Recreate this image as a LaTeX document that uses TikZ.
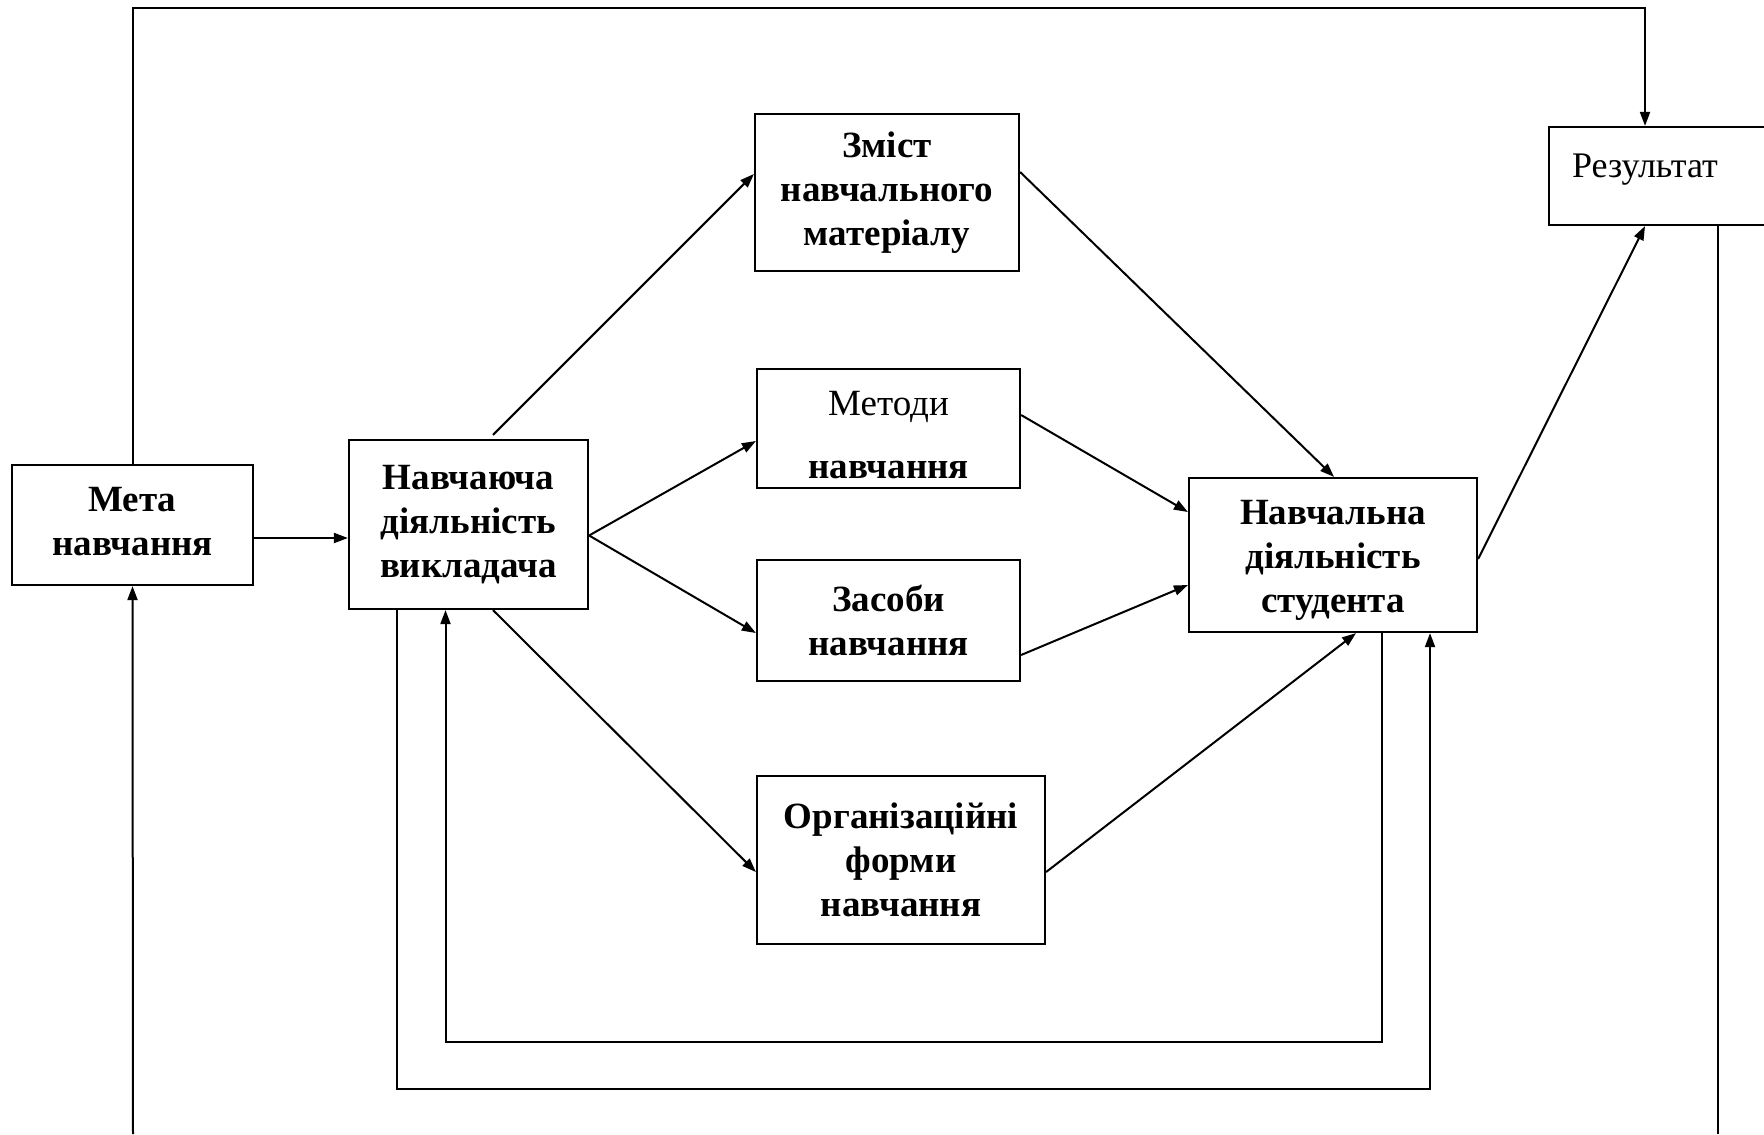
\documentclass[tikz,border=0pt]{standalone}
\usepackage{fontspec}
\setmainfont{Liberation Serif}
\usetikzlibrary{arrows.meta,calc}
\begin{document}
\begin{tikzpicture}[x=0.5pt,y=-0.5pt,
  box/.style={draw,line width=1.1pt,inner sep=0pt,align=center,
    font=\fontsize{18.5}{22}\selectfont\bfseries},
  txt/.style={inner sep=0pt,align=center,font=\fontsize{18.5}{22}\selectfont\bfseries},
  conn/.style={line width=1pt},
  arr/.style={conn,-{Triangle[length=7pt,width=5pt]}}]
\useasboundingbox (0,0) rectangle (1764,1134);
% boxes
\node[box,minimum width=120.5pt,minimum height=60pt] (meta) at (132.5,525) {};
\node[txt] (metatext) at (132.5,522) {Мета\\навчання};
\node[box,minimum width=119.5pt,minimum height=84.5pt] (teach) at (468.5,524.5) {Навчаюча\\діяльність\\викладача};
\node[box,minimum width=132pt,minimum height=78.5pt] (content) at (887,192.5) {Зміст\\навчального\\матеріалу};
\node[box,minimum width=131.5pt,minimum height=59.5pt] (methods) at (888.5,428.5) {};
\node[font=\fontsize{18.5}{22}\selectfont] (methodsA) at (888.5,406.5) {Методи};
\node[font=\fontsize{18.5}{22}\selectfont\bfseries] (methodsB) at (888.5,470) {навчання};
\node[box,minimum width=131.5pt,minimum height=60.5pt] (means) at (888.5,620.5) {Засоби\\навчання};
\node[box,minimum width=144pt,minimum height=84pt] (org) at (901,860) {Організаційні\\форми\\навчання};
\node[box,minimum width=144pt,minimum height=77pt] (stud) at (1333,555) {};
\node[txt] (studtext) at (1333,560.5) {Навчальна\\діяльність\\студента};
\node[box,minimum width=120.5pt,minimum height=49pt] (res) at (1669.5,176) {};
\node[font=\fontsize{18}{22}\selectfont] (restext) at (1645,169.5) {Результат};
\coordinate (metabot) at (133,1134);
\coordinate (rightbot) at (1718,1134);
% connectors
\draw[arr] (meta.north) -- ++(0,-456) -| ([xshift=-12.25pt]res.north);
\draw[arr] (metabot) -- (meta.south);
\draw[conn] ([xshift=24.25pt]res.south) -- (rightbot);
\draw[arr] ([yshift=-6.5pt]meta.east) -- ([yshift=-6.5pt]meta.east -| teach.west);
\draw[arr] ([xshift=12.25pt,yshift=2pt]teach.north) -- ([yshift=9.25pt]content.west);
\draw[arr] ([yshift=-5.5pt]teach.east) -- ([yshift=-6.25pt]methods.west);
\draw[arr] ([yshift=-5.5pt]teach.east) -- ([yshift=-6.25pt]means.west);
\draw[arr] ([xshift=12.25pt]teach.south) -- ([yshift=-6pt]org.west);
\draw[arr] ([yshift=10.25pt]content.east) -- ([xshift=0.5pt]stud.north);
\draw[arr] ([yshift=6.75pt]methods.east) -- ([yshift=21.5pt]stud.west);
\draw[arr] ([yshift=-17.25pt]means.east) -- ([yshift=-15pt]stud.west);
\draw[arr] ([yshift=-6pt]org.east) -- ([xshift=11.5pt]stud.south);
\draw[arr] ([yshift=-2pt]stud.east) -- ([xshift=-12.25pt]res.south);
\draw[arr] ([xshift=24.25pt]stud.south) -- ++(0,408.6) -| ([xshift=-11.5pt]teach.south);
\draw[arr] ([xshift=-35.75pt]teach.south) -- ++(0,479) -| ([xshift=48.5pt]stud.south);
\end{tikzpicture}
\end{document}
